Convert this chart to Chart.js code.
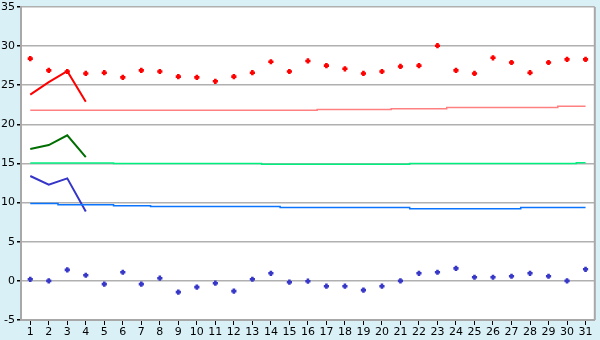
<!DOCTYPE html>
<html>
<head>
<meta charset="utf-8">
<script src="https://cdn.jsdelivr.net/npm/chart.js@4.4.0/dist/chart.umd.min.js"></script>
<style>
  html, body { margin: 0; padding: 0; background: #daf0f7; }
  #wrap { width: 600px; height: 340px; }
</style>
</head>
<body>
<div id="wrap"><canvas id="chart"></canvas></div>
<script>
// Jours du mois
const days = [];
for (let d = 1; d <= 31; d++) days.push(String(d));

// Points rouges (haut)
const redPoints = [28.4, 26.9, 26.75, 26.5, 26.6, 26.0, 26.9, 26.75, 26.1, 26.0,
    25.5, 26.1, 26.6, 28.0, 26.75, 28.1, 27.5, 27.1, 26.5, 26.75,
    27.4, 27.5, 30.05, 26.9, 26.5, 28.5, 27.9, 26.6, 27.9, 28.3, 28.3];
// Points bleus (bas)
const bluePoints = [0.2, 0.0, 1.4, 0.72, -0.42, 1.1, -0.42, 0.34, -1.44, -0.8,
    -0.3, -1.31, 0.21, 0.97, -0.17, -0.04, -0.68, -0.68, -1.18, -0.68,
    0.0, 0.97, 1.1, 1.6, 0.46, 0.46, 0.59, 0.97, 0.59, 0.0, 1.48];

// Courtes courbes (jours 1-4)
const redLine = [23.8, 25.4, 26.8, 22.9];
const greenLine = [16.85, 17.35, 18.6, 15.8];
const blueLine = [13.4, 12.3, 13.1, 8.85];

// Lignes de tendance en escalier
const pinkTrend = [21.8, 21.8, 21.8, 21.8, 21.8, 21.8, 21.8, 21.8, 21.8, 21.8,
    21.8, 21.8, 21.8, 21.8, 21.8, 21.8, 21.9, 21.9, 21.9, 21.9,
    22.0, 22.0, 22.0, 22.15, 22.15, 22.15, 22.15, 22.15, 22.15, 22.3, 22.3];
const greenTrend = [15.05, 15.05, 15.05, 15.05, 15.05, 15.0, 15.0, 15.0, 15.0, 15.0,
    15.0, 15.0, 15.0, 14.9, 14.9, 14.9, 14.9, 14.9, 14.9, 14.9,
    14.9, 15.0, 15.0, 15.0, 15.0, 15.0, 15.0, 15.0, 15.0, 15.0, 15.1];
const blueTrend = [9.87, 9.87, 9.74, 9.74, 9.74, 9.6, 9.6, 9.5, 9.5, 9.5,
    9.5, 9.5, 9.5, 9.5, 9.36, 9.36, 9.36, 9.36, 9.36, 9.36,
    9.36, 9.23, 9.23, 9.23, 9.23, 9.23, 9.23, 9.36, 9.36, 9.36, 9.36];

const yMin = -5, yMax = 35, yStep = 5;

// Fond : bleu clair autour, blanc dans la zone du graphique, bordure droite grise
const backgroundPlugin = {
    id: 'fond',
    beforeDraw(chart) {
        const { ctx, chartArea: a } = chart;
        ctx.save();
        ctx.fillStyle = '#daf0f7';
        ctx.fillRect(0, 0, chart.width, chart.height);
        ctx.fillStyle = '#ffffff';
        ctx.fillRect(a.left, a.top, a.right - a.left, a.bottom - a.top);
        ctx.restore();
    },
    afterDraw(chart) {
        const { ctx, chartArea: a } = chart;
        ctx.save();
        ctx.strokeStyle = '#a8a8a8';
        ctx.lineWidth = 2;
        ctx.beginPath();
        ctx.moveTo(a.right, a.top);
        ctx.lineTo(a.right, a.bottom);
        ctx.stroke();
        ctx.restore();
    }
};

function pointsSet(data, color) {
    return {
        data: data,
        showLine: false,
        pointStyle: 'cross',
        pointRadius: 2.6,
        pointBorderWidth: 2.6,
        borderColor: color,
        backgroundColor: color,
        pointHoverRadius: 2.6
    };
}

function curveSet(data, color) {
    return {
        data: data,
        borderColor: color,
        borderWidth: 2,
        pointRadius: 0,
        tension: 0
    };
}

function trendSet(data, color) {
    return {
        data: data,
        borderColor: color,
        borderWidth: 1.5,
        pointRadius: 0,
        stepped: 'middle'
    };
}

new Chart(document.getElementById('chart'), {
    type: 'line',
    data: {
        labels: days,
        datasets: [
            trendSet(pinkTrend, '#ff8080'),
            trendSet(greenTrend, '#00f080'),
            trendSet(blueTrend, '#0a74ff'),
            curveSet(redLine, '#ff0000'),
            curveSet(greenLine, '#006e00'),
            curveSet(blueLine, '#3535c8'),
            pointsSet(redPoints, '#ff0000'),
            pointsSet(bluePoints, '#3838c8')
        ]
    },
    options: {
        responsive: true,
        maintainAspectRatio: false,
        animation: false,
        layout: { padding: { top: 0, right: 5, left: 0, bottom: 0 } },
        plugins: {
            legend: { display: false },
            tooltip: { enabled: false }
        },
        scales: {
            x: {
                offset: true,
                grid: {
                    drawOnChartArea: false,
                    drawTicks: true,
                    tickLength: 5,
                    tickColor: '#000000',
                    offset: false
                },
                border: { color: '#a8a8a8', width: 2 },
                ticks: {
                    color: '#000000',
                    padding: 1,
                    maxRotation: 0,
                    autoSkip: false,
                    font: { family: 'DejaVu Sans', size: 11 }
                },
                afterFit(scale) { scale.height = 20; }
            },
            y: {
                min: yMin,
                max: yMax,
                ticks: {
                    stepSize: yStep,
                    color: '#000000',
                    padding: 2,
                    font: { family: 'DejaVu Sans', size: 11, lineHeight: 0.9 }
                },
                grid: {
                    color: '#b0b0b0',
                    lineWidth: 1.5,
                    drawTicks: true,
                    tickLength: 4,
                    tickColor: '#000000'
                },
                border: { color: '#a8a8a8', width: 2 },
                afterFit(scale) { scale.width = 21; }
            }
        }
    },
    plugins: [backgroundPlugin]
});
</script>
</body>
</html>
